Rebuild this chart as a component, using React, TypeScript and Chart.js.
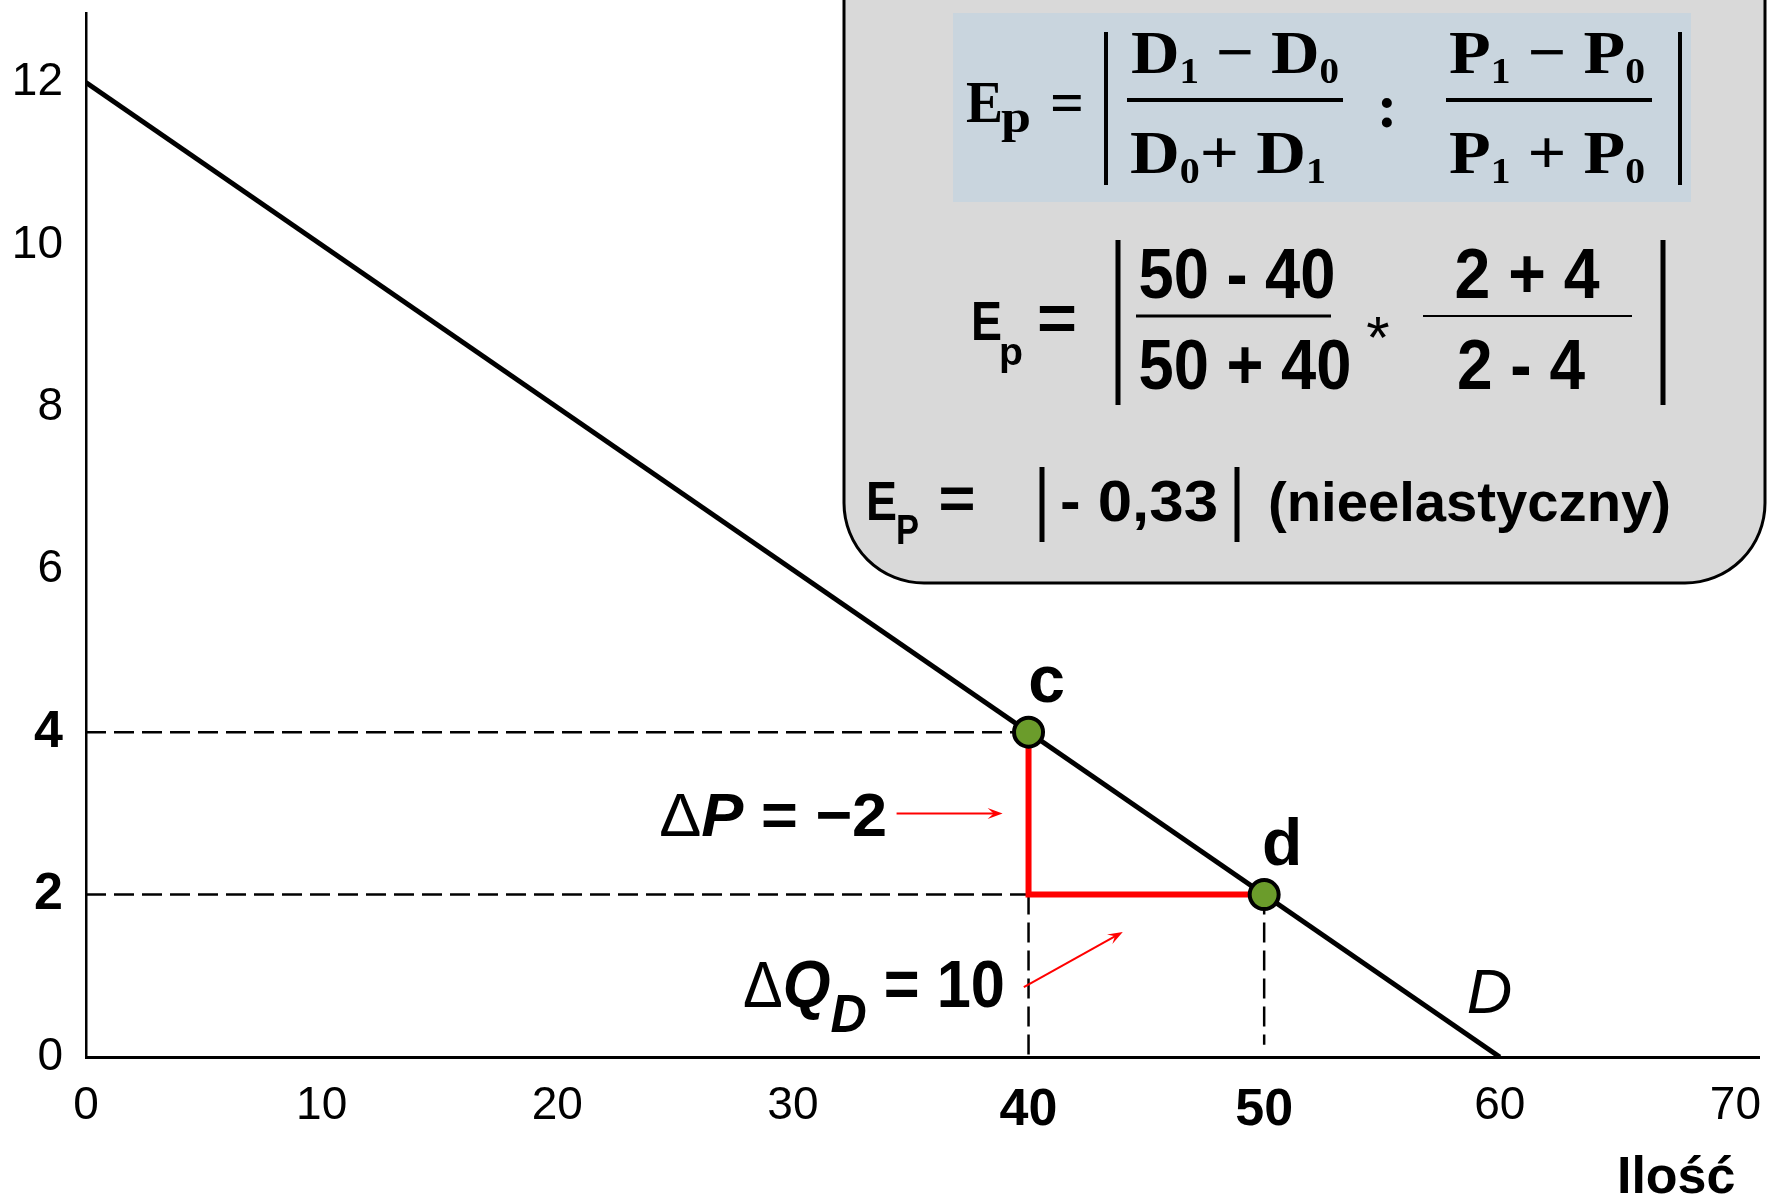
import React, { useEffect, useRef } from "react";
import { Chart, registerables } from "chart.js";

Chart.register(...registerables);

// ---------------- data ----------------
const xTickValues = [0, 10, 20, 30, 40, 50, 60, 70];
const yTickValues = [0, 2, 4, 6, 8, 10, 12];
const boldXTicks = [40, 50];
const boldYTicks = [2, 4];
const axisMaxQ = 71;
const axisMaxP = 12.85;

const demandQuantity = [0, 60];
const demandPrice = [12, 0];

const pointNames = ["c", "d"];
const pointQuantity = [40, 50];
const pointPrice = [4, 2];
const dropLineEndP = 0.15;

const curveLabel = "D";
const curveLabelAt = [58.6, 0.54];
const deltaPParts = ["Δ", "P", " = −2"];
const deltaPLabelAt = [34, 3];
const deltaPArrow = [34.4, 3, 38.9, 3];
const deltaQParts = ["Δ", "Q", "D", " = 10"];
const deltaQLabelAt = [39, 0.62];
const deltaQArrow = [39.8, 0.86, 44.0, 1.54];
const xAxisTitle = "Ilość";

const f1Lhs = ["E", "p"];
const f1Num1 = ["D", "1", " − D", "0"];
const f1Den1 = ["D", "0", "+ D", "1"];
const f1Sep = ":";
const f1Num2 = ["P", "1", " − P", "0"];
const f1Den2 = ["P", "1", " + P", "0"];
const f2Lhs = ["E", "p"];
const f2Num1 = "50 - 40";
const f2Den1 = "50 + 40";
const f2Op = "*";
const f2Num2 = "2 + 4";
const f2Den2 = "2 - 4";
const f3Lhs = ["E", "P"];
const f3Value = "- 0,33";
const f3Note = "(nieelastyczny)";

// ---------------- helpers ----------------
const SANS = "'Liberation Sans', Arial, Helvetica, sans-serif";
const SERIF = "'Liberation Serif', 'Times New Roman', serif";
const fnt = (size: number, weight = "normal", style = "normal", fam = SANS) =>
  `${style} ${weight} ${size}px ${fam}`;

type Run = { t: string; f: string; dy?: number };

function drawRuns(
  ctx: CanvasRenderingContext2D,
  runs: Run[],
  x: number,
  y: number,
  align: "left" | "center" | "right",
  width?: number
) {
  let total = 0;
  const ws = runs.map((r) => {
    ctx.font = r.f;
    const w = ctx.measureText(r.t).width;
    total += w;
    return w;
  });
  const target = width ?? total;
  const s = total > 0 ? target / total : 1;
  let cx = align === "left" ? x : align === "right" ? x - target : x - target / 2;
  ctx.save();
  ctx.textAlign = "left";
  ctx.textBaseline = "alphabetic";
  runs.forEach((r, i) => {
    ctx.save();
    ctx.translate(cx, y + (r.dy || 0));
    ctx.scale(s, 1);
    ctx.font = r.f;
    ctx.fillText(r.t, 0, 0);
    ctx.restore();
    cx += ws[i] * s;
  });
  ctx.restore();
}

function vbar(ctx: CanvasRenderingContext2D, x: number, y1: number, y2: number, w: number) {
  ctx.beginPath();
  ctx.lineWidth = w;
  ctx.moveTo(x, y1);
  ctx.lineTo(x, y2);
  ctx.stroke();
}
function hbar(ctx: CanvasRenderingContext2D, x1: number, x2: number, y: number, w: number) {
  ctx.beginPath();
  ctx.lineWidth = w;
  ctx.moveTo(x1, y);
  ctx.lineTo(x2, y);
  ctx.stroke();
}

function arrow(ctx: CanvasRenderingContext2D, x1: number, y1: number, x2: number, y2: number) {
  const a = Math.atan2(y2 - y1, x2 - x1);
  const L = 15;
  const W = 5.5;
  const c = Math.cos(a);
  const s = Math.sin(a);
  ctx.save();
  ctx.strokeStyle = "#ff0000";
  ctx.fillStyle = "#ff0000";
  ctx.lineWidth = 2;
  ctx.beginPath();
  ctx.moveTo(x1, y1);
  ctx.lineTo(x2 - c * 6, y2 - s * 6);
  ctx.stroke();
  ctx.beginPath();
  ctx.moveTo(x2, y2);
  ctx.lineTo(x2 - L * c + W * s, y2 - L * s - W * c);
  ctx.lineTo(x2 - 0.6 * L * c, y2 - 0.6 * L * s);
  ctx.lineTo(x2 - L * c - W * s, y2 - L * s + W * c);
  ctx.closePath();
  ctx.fill();
  ctx.restore();
}

function drawFormulaBox(ctx: CanvasRenderingContext2D) {
  ctx.save();
  ctx.beginPath();
  ctx.roundRect(844, -100, 921, 683, 80);
  ctx.fillStyle = "#d9d9d9";
  ctx.fill();
  ctx.lineWidth = 3;
  ctx.strokeStyle = "#000";
  ctx.stroke();

  ctx.fillStyle = "#c9d5de";
  ctx.fillRect(953, 13, 738, 189);

  ctx.fillStyle = "#000";
  ctx.strokeStyle = "#000";
  const sb = (s: number) => fnt(s, "bold", "normal", SERIF);

  // line 1 (serif)
  drawRuns(ctx, [{ t: f1Lhs[0], f: sb(59) }], 966, 122, "left", 37);
  drawRuns(ctx, [{ t: f1Lhs[1], f: sb(46) }], 1001, 132, "left", 30);
  drawRuns(ctx, [{ t: "=", f: sb(59) }], 1067, 122, "center", 34);
  vbar(ctx, 1106, 32, 185, 4);
  const frac1 = (p: string[]) => [
    { t: p[0], f: sb(62) },
    { t: p[1], f: sb(36), dy: 10 },
    { t: p[2], f: sb(62) },
    { t: p[3], f: sb(36), dy: 10 },
  ];
  drawRuns(ctx, frac1(f1Num1), 1235, 73, "center", 208);
  hbar(ctx, 1127, 1343, 100, 4);
  drawRuns(ctx, frac1(f1Den1), 1228, 173, "center", 196);
  drawRuns(ctx, [{ t: f1Sep, f: sb(62) }], 1387, 127, "center");
  drawRuns(ctx, frac1(f1Num2), 1547, 73, "center", 196);
  hbar(ctx, 1446, 1652, 100, 4);
  drawRuns(ctx, frac1(f1Den2), 1547, 173, "center", 196);
  vbar(ctx, 1680, 32, 185, 4);

  // line 2 (sans)
  const b = (s: number) => fnt(s, "bold");
  drawRuns(ctx, [{ t: f2Lhs[0], f: b(56) }], 971, 340, "left", 31);
  drawRuns(ctx, [{ t: f2Lhs[1], f: b(38) }], 999, 365, "left", 24);
  drawRuns(ctx, [{ t: "=", f: b(64) }], 1057, 340, "center", 40);
  vbar(ctx, 1118, 240, 405, 5);
  drawRuns(ctx, [{ t: f2Num1, f: b(70) }], 1237, 298, "center", 197);
  hbar(ctx, 1136, 1331, 316, 3);
  drawRuns(ctx, [{ t: f2Den1, f: b(70) }], 1245, 389, "center", 213);
  drawRuns(ctx, [{ t: f2Op, f: fnt(60) }], 1378, 358, "center");
  drawRuns(ctx, [{ t: f2Num2, f: b(70) }], 1527, 298, "center", 145);
  hbar(ctx, 1423, 1632, 316, 2);
  drawRuns(ctx, [{ t: f2Den2, f: b(70) }], 1521, 389, "center", 128);
  vbar(ctx, 1663, 240, 405, 5);

  // line 3
  drawRuns(ctx, [{ t: f3Lhs[0], f: b(56) }], 866, 520, "left", 31);
  drawRuns(ctx, [{ t: f3Lhs[1], f: b(42) }], 896, 544, "left", 23);
  drawRuns(ctx, [{ t: "=", f: b(60) }], 957, 518, "center", 37);
  vbar(ctx, 1042, 467, 542, 5);
  drawRuns(ctx, [{ t: f3Value, f: b(58) }], 1060, 521, "left", 158);
  vbar(ctx, 1237, 467, 542, 5);
  drawRuns(ctx, [{ t: f3Note, f: b(56) }], 1268, 521, "left", 403);
  ctx.restore();
}

const annotationPlugin = {
  id: "annotations",
  afterDatasetsDraw(chart: any) {
    const { ctx, scales } = chart;
    const X = (v: number) => scales.x.getPixelForValue(v);
    const Y = (v: number) => scales.y.getPixelForValue(v);
    ctx.save();
    ctx.fillStyle = "#000";

    // point labels
    pointNames.forEach((n, i) => {
      drawRuns(ctx, [{ t: n, f: fnt(66, "bold") }], X(pointQuantity[i]) + 18, Y(pointPrice[i]) - 30, "center");
    });

    // curve label
    drawRuns(ctx, [{ t: curveLabel, f: fnt(63, "normal", "italic") }], X(curveLabelAt[0]), Y(curveLabelAt[1]), "left");

    // ΔP
    drawRuns(
      ctx,
      [
        { t: deltaPParts[0], f: fnt(62) },
        { t: deltaPParts[1], f: fnt(62, "bold", "italic") },
        { t: deltaPParts[2], f: fnt(62, "bold") },
      ],
      X(deltaPLabelAt[0]),
      Y(deltaPLabelAt[1]) + 23,
      "right",
      228
    );
    arrow(ctx, X(deltaPArrow[0]), Y(deltaPArrow[1]), X(deltaPArrow[2]), Y(deltaPArrow[3]));

    // ΔQ
    drawRuns(
      ctx,
      [
        { t: deltaQParts[0], f: fnt(64) },
        { t: deltaQParts[1], f: fnt(66, "bold", "italic") },
        { t: deltaQParts[2], f: fnt(54, "bold", "italic"), dy: 25 },
        { t: deltaQParts[3], f: fnt(66, "bold") },
      ],
      X(deltaQLabelAt[0]),
      Y(deltaQLabelAt[1]),
      "right",
      262
    );
    arrow(ctx, X(deltaQArrow[0]), Y(deltaQArrow[1]), X(deltaQArrow[2]), Y(deltaQArrow[3]));

    // axis title
    drawRuns(ctx, [{ t: xAxisTitle, f: fnt(52, "bold") }], X(xTickValues[xTickValues.length - 1]), scales.x.bottom - 3, "right");
    ctx.restore();
  },
  afterDraw(chart: any) {
    drawFormulaBox(chart.ctx);
  },
};

export default function App() {
  const ref = useRef<HTMLCanvasElement | null>(null);

  useEffect(() => {
    if (!ref.current) return;
    Chart.defaults.font.family = SANS;
    Chart.defaults.color = "#000";

    const pts = pointQuantity.map((q, i) => ({ x: q, y: pointPrice[i] }));
    const dashed = {
      borderColor: "#000",
      borderWidth: 2.5,
      borderDash: [20, 8],
      pointRadius: 0,
      showLine: true,
      fill: false,
      order: 4,
    };
    const noPad = (s: any) => {
      s.paddingTop = 0;
      s.paddingBottom = 0;
      s.paddingLeft = 0;
      s.paddingRight = 0;
    };

    const chart = new Chart(ref.current, {
      type: "scatter",
      data: {
        datasets: [
          {
            label: "punkty",
            data: pts,
            pointRadius: 14.5,
            pointBorderWidth: 4,
            pointBackgroundColor: "#6b9c2b",
            pointBorderColor: "#000",
            showLine: false,
            order: 0,
          } as any,
          {
            label: "ΔP / ΔQ",
            data: [
              { x: pointQuantity[0], y: pointPrice[0] },
              { x: pointQuantity[0], y: pointPrice[1] },
              { x: pointQuantity[1], y: pointPrice[1] },
            ],
            borderColor: "#ff0000",
            borderWidth: 6,
            pointRadius: 0,
            showLine: true,
            order: 1,
          },
          {
            label: "D",
            data: demandQuantity.map((q, i) => ({ x: q, y: demandPrice[i] })),
            borderColor: "#000",
            borderWidth: 5,
            pointRadius: 0,
            showLine: true,
            order: 2,
          },
          { ...dashed, label: "p4", data: [{ x: 0, y: pointPrice[0] }, { x: pointQuantity[0], y: pointPrice[0] }] },
          { ...dashed, label: "p2", data: [{ x: 0, y: pointPrice[1] }, { x: pointQuantity[0], y: pointPrice[1] }] },
          { ...dashed, label: "q40", data: [{ x: pointQuantity[0], y: pointPrice[1] }, { x: pointQuantity[0], y: 0 }] },
          { ...dashed, label: "q50", data: [{ x: pointQuantity[1], y: pointPrice[1] }, { x: pointQuantity[1], y: dropLineEndP }] },
        ] as any,
      },
      options: {
        animation: false,
        responsive: false,
        maintainAspectRatio: false,
        events: [],
        layout: { autoPadding: false, padding: { left: 0, right: 9, top: 13.5, bottom: 0 } },
        plugins: {
          legend: { display: false },
          tooltip: { enabled: false },
          title: { display: false },
        },
        scales: {
          x: {
            type: "linear",
            min: 0,
            max: axisMaxQ,
            grid: { display: false, drawTicks: false },
            border: { display: true, color: "#000", width: 3 },
            ticks: {
              padding: 22,
              color: "#000",
              maxRotation: 0,
              autoSkip: false,
              font: (c: any) =>
                boldXTicks.includes(c.tick?.value) ? { size: 52, weight: "bold" } : { size: 46, weight: "normal" },
            },
            afterBuildTicks: (s: any) => {
              s.ticks = xTickValues.map((v) => ({ value: v }));
            },
            afterFit: (s: any) => {
              s.height = 139;
              noPad(s);
            },
          },
          y: {
            type: "linear",
            min: 0,
            max: axisMaxP,
            grid: { display: false, drawTicks: false },
            border: { display: true, color: "#000", width: 2.5 },
            ticks: {
              padding: 23,
              color: "#000",
              autoSkip: false,
              font: (c: any) =>
                boldYTicks.includes(c.tick?.value) ? { size: 52, weight: "bold" } : { size: 46, weight: "normal" },
            },
            afterBuildTicks: (s: any) => {
              s.ticks = yTickValues.map((v) => ({ value: v }));
            },
            afterFit: (s: any) => {
              s.width = 86;
              noPad(s);
            },
          },
        },
      } as any,
      plugins: [annotationPlugin],
    });

    return () => chart.destroy();
  }, []);

  return (
    <div style={{ position: "fixed", left: 0, top: 0, width: 1768, height: 1196, background: "#fff" }}>
      <canvas ref={ref} width={1768} height={1196} style={{ display: "block" }} />
    </div>
  );
}
